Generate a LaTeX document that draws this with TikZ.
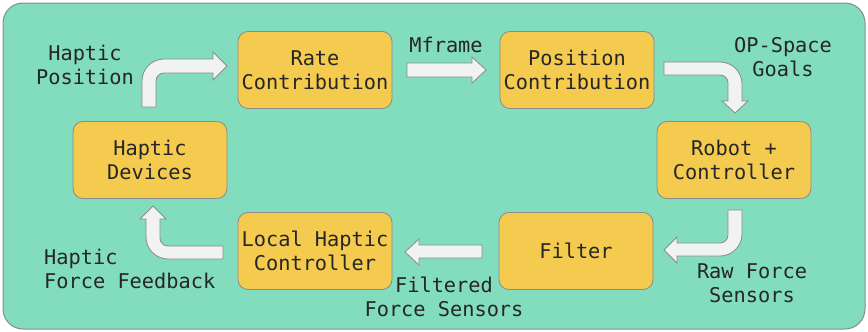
\documentclass[tikz,border=0pt]{standalone}
\usepackage{fontspec}
\setmonofont{DejaVu Sans Mono}
\definecolor{panel}{HTML}{82DCBE}
\definecolor{boxfill}{HTML}{F4CB4E}
\definecolor{arrowfill}{HTML}{F1F3F3}
\definecolor{edge}{HTML}{8A8A8A}
\begin{document}
\begin{tikzpicture}[x=1pt,y=-1pt,
  stage/.style={draw=edge, line width=0.8pt, fill=boxfill, rounded corners=10pt,
    minimum width=154pt, minimum height=77pt, align=center, inner sep=0pt,
    font=\ttfamily\fontsize{20.3}{24}\selectfont, text=black!85},
  tag/.style={align=center, inner sep=0pt, font=\ttfamily\fontsize{20.3}{24}\selectfont, text=black!85},
  blockarrow/.style={draw=edge, line width=0.8pt, fill=arrowfill, line join=miter}
]
\useasboundingbox (0,0) rectangle (868,332);
% panel
\draw[draw=edge, line width=1pt, fill=panel, rounded corners=20pt] (3,3) rectangle (865,329);

% stages
\node[stage] (rate)   at (315,70)  {Rate\\Contribution};
\node[stage] (pos)    at (577,70)  {Position\\Contribution};
\node[stage] (dev)    at (150,160) {Haptic\\Devices};
\node[stage] (robot)  at (734,160) {Robot +\\Controller};
\node[stage] (local)  at (315,251) {Local Haptic\\Controller};
\node[stage] (filter) at (576,251) {Filter};

% block arrows
% devices -> rate
\draw[blockarrow] (142,107) [rounded corners=22pt] -- (142,59) [sharp corners] -- (213,59) -- (213,52) -- (227,66) -- (213,80) -- (213,73)
  [rounded corners=8pt] -- (156,73) [sharp corners] -- (156,107) -- cycle;
% rate -> position
\draw[blockarrow] (407,63) -- (472,63) -- (472,57) -- (486,70) -- (472,83) -- (472,77) -- (407,77) -- cycle;
% position -> robot
\draw[blockarrow] (664,62) [rounded corners=22pt] -- (742,62) [sharp corners] -- (742,101) -- (748,101) -- (735,113) -- (722,101) -- (728,101)
  [rounded corners=8pt] -- (728,75) [sharp corners] -- (664,75) -- cycle;
% robot -> filter
\draw[blockarrow] (742,210) [rounded corners=22pt] -- (742,256) [sharp corners] -- (677,256) -- (677,263) -- (664,250) -- (677,237) -- (677,243)
  [rounded corners=8pt] -- (728,243) [sharp corners] -- (728,210) -- cycle;
% filter -> local controller
\draw[blockarrow] (482,245) -- (419,245) -- (419,239) -- (405,252) -- (419,265) -- (419,258) -- (482,258) -- cycle;
% local controller -> devices
\draw[blockarrow] (223,259) [rounded corners=22pt] -- (146,259) [sharp corners] -- (146,219) -- (140,219) -- (153,206) -- (166,219) -- (160,219)
  [rounded corners=8pt] -- (160,246) [sharp corners] -- (223,246) -- cycle;

% labels
\node[tag] (lpos)  at (85,65)   {Haptic\\Position};
\node[tag] (lmf)   at (446,45)  {Mframe};
\node[tag] (lop)   at (783,57)  {OP-Space\\Goals};
\node[tag] (lraw)  at (752,283) {Raw Force\\Sensors};
\node[tag] (lfilt) at (444,297) {Filtered\\Force Sensors};
\node[tag, align=left, anchor=west] (lfb) at (44,269) {Haptic\\Force Feedback};
\end{tikzpicture}
\end{document}
